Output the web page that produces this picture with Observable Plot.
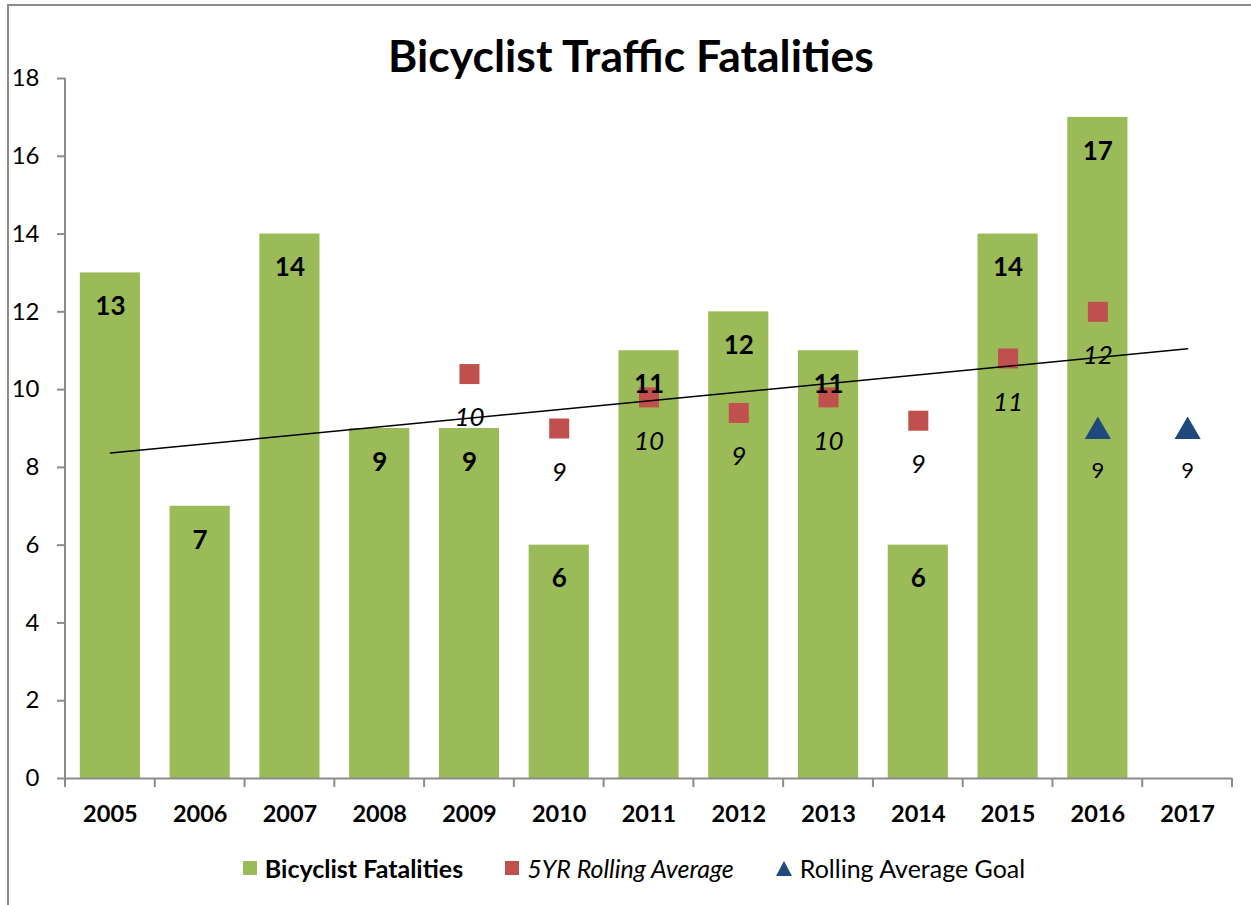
<!DOCTYPE html>
<html><head><meta charset="utf-8">
<script src="https://cdn.jsdelivr.net/npm/d3@7"></script>
<script src="https://cdn.jsdelivr.net/npm/@observablehq/plot@0.6"></script>
<style>
body{margin:0;overflow:hidden;background:#fff;font-family:Lato,sans-serif;}
#wrap{position:relative;width:1251px;height:905px;overflow:hidden;background:#fff;}
#border{position:absolute;left:7px;top:4px;width:1400px;height:1000px;border:2px solid #8c8c8c;box-sizing:border-box;}
#title{position:absolute;left:0;width:1262px;top:33px;text-align:center;font-weight:bold;font-size:44.5px;line-height:1;color:#000;}
#chart{position:absolute;left:0;top:0;}
#legend{position:absolute;top:855px;left:0;width:1268px;height:26px;display:flex;justify-content:center;align-items:center;gap:42px;font-size:25px;line-height:26px;color:#000;}
.item{display:flex;align-items:center;gap:8px;}
.sw{width:14px;height:14px;display:inline-block;}
</style></head>
<body>
<div id="wrap">
  <div id="border"></div>
  <div id="chart"></div>
  <div id="title">Bicyclist Traffic Fatalities</div>
  <div id="legend"></div>
</div>
<script>
// ---- data ----
const years = ["2005","2006","2007","2008","2009","2010","2011","2012","2013","2014","2015","2016","2017"];
const fatalityYears = ["2005","2006","2007","2008","2009","2010","2011","2012","2013","2014","2015","2016"];
const fatalities = [13, 7, 14, 9, 9, 6, 11, 12, 11, 6, 14, 17];
const avgYears = ["2009","2010","2011","2012","2013","2014","2015","2016"];
const avgValues = [10.4, 9.0, 9.8, 9.4, 9.8, 9.2, 10.8, 12.0];
const avgLabels = ["10","9","10","9","10","9","11","12"];
const goalYears = ["2016","2017"];
const goalValues = [9, 9];
const goalLabels = ["9","9"];
const trendYears = ["2005","2017"];
const trendValues = [8.37, 11.05];
const yTicks = [0, 2, 4, 6, 8, 10, 12, 14, 16, 18];

const barData = fatalityYears.map((year, i) => ({year, value: fatalities[i]}));
const avgData = avgYears.map((year, i) => ({year, value: avgValues[i], label: avgLabels[i]}));
const goalData = goalYears.map((year, i) => ({year, value: goalValues[i], label: goalLabels[i]}));
const trendData = trendYears.map((year, i) => ({year, value: trendValues[i]}));

const GREEN = "#9BBB59", RED = "#C0504D", BLUE = "#1F497D", AXIS = "#8c8c8c";

const plot = Plot.plot({
  width: 1251, height: 830,
  marginTop: 78, marginBottom: 52, marginLeft: 65, marginRight: 19,
  style: {fontFamily: "Lato, sans-serif", background: "transparent", overflow: "visible", color: "#000"},
  x: {domain: years, paddingInner: 0.33, paddingOuter: 0.165, round: false, label: null},
  y: {domain: [0, 18], label: null},
  marks: [
    Plot.barY(barData, {x: "year", y: "value", fill: GREEN}),
    Plot.ruleY([0], {stroke: AXIS, strokeWidth: 2}),
    Plot.dot(avgData, {x: "year", y: "value", symbol: "square", r: 11.3, fill: RED}),
    Plot.dot(goalData, {x: "year", y: "value", symbol: "triangle", r: 9.7, dy: 3, fill: BLUE}),
    Plot.text(barData, {x: "year", y: "value", text: d => String(d.value), dy: 34, fontWeight: "bold", fontSize: 26, fill: "#000"}),
    Plot.text(avgData, {x: "year", y: "value", text: "label", dy: 44, fontStyle: "italic", fontSize: 26, fill: "#000"}),
    Plot.text(goalData, {x: "year", y: "value", text: "label", dy: 42, fontSize: 22, fill: "#000"}),
    Plot.line(trendData, {x: "year", y: "value", stroke: "#000", strokeWidth: 1.5}),
    Plot.axisY({ticks: yTicks, tickSize: 8, tickPadding: 18, fontSize: 24, stroke: AXIS, strokeWidth: 2, fill: "#000", label: null}),
    Plot.axisX({tickSize: 0, tickPadding: 27, fontSize: 23.5, fontWeight: "bold", fill: "#000", label: null})
  ]
});
document.getElementById("chart").appendChild(plot);

// y-axis line and category-boundary ticks, placed with the plot's own scales
const xs = plot.scale("x"), ys = plot.scale("y");
const svg = d3.select(plot);
const g = svg.append("g").attr("stroke", AXIS).attr("stroke-width", 2);
const x0 = xs.range[0];
g.append("line").attr("x1", x0).attr("x2", x0).attr("y1", ys.apply(18)).attr("y2", ys.apply(0));
for (let i = 0; i <= years.length; i++) {
  const bx = x0 + i * xs.step;
  g.append("line").attr("x1", bx).attr("x2", bx).attr("y1", ys.apply(0)).attr("y2", ys.apply(0) + 9);
}

// legend
const legend = d3.select("#legend");
const it1 = legend.append("div").attr("class", "item");
it1.append("span").attr("class", "sw").style("background", GREEN);
it1.append("span").style("font-weight", "bold").text("Bicyclist Fatalities");
const it2 = legend.append("div").attr("class", "item");
it2.append("span").attr("class", "sw").style("background", RED);
it2.append("span").style("font-style", "italic").text("5YR Rolling Average");
const it3 = legend.append("div").attr("class", "item");
it3.append("svg").attr("width", 16).attr("height", 15)
  .append("path").attr("d", "M8,0L16,15L0,15Z").attr("fill", BLUE);
it3.append("span").text("Rolling Average Goal");
</script>
</body></html>
